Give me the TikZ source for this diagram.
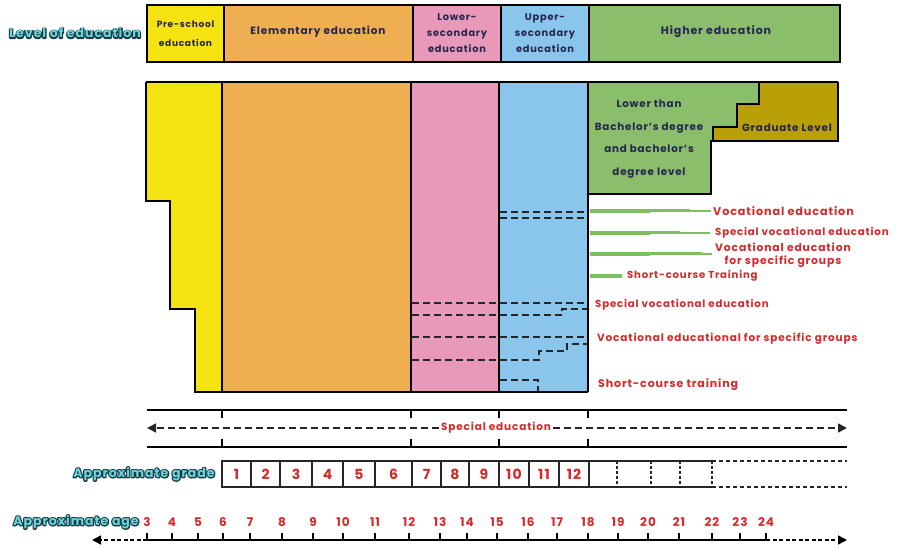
\documentclass[tikz,border=0pt]{standalone}
\usepackage{fontspec}
\setmainfont{Poppins}[LetterSpace=8]
\usetikzlibrary{arrows.meta}
\definecolor{yel}{HTML}{F4E311}
\definecolor{ora}{HTML}{F0AE52}
\definecolor{pnk}{HTML}{E899BA}
\definecolor{blu}{HTML}{8AC6EC}
\definecolor{grn}{HTML}{8BBE6A}
\definecolor{oli}{HTML}{B8A006}
\definecolor{navy}{HTML}{25254F}
\definecolor{redt}{HTML}{D42A2A}
\definecolor{cyn}{HTML}{66D6DE}
\definecolor{cdark}{HTML}{1C3A44}
\definecolor{vbar}{HTML}{7DBF5E}
\begin{document}
\begin{tikzpicture}[x=1pt,y=-1pt,
  box/.style={draw=black,line width=2.6pt,line join=miter},
  ttext/.style={text=navy,font=\bfseries\fontsize{10.5}{15}\selectfont,align=center,inner sep=0pt},
  rtext/.style={text=redt,font=\bfseries\fontsize{10.5}{11}\selectfont,anchor=west,inner sep=0pt},
  clabel/.style={font=\bfseries\fontsize{12.5}{13}\selectfont,inner sep=0pt},
  dsh/.style={draw=black!85,line width=1.4pt,dash pattern=on 7pt off 4pt},
  grade/.style={text=redt,font=\bfseries\fontsize{14}{14}\selectfont,inner sep=0pt},
  age/.style={text=redt,font=\bfseries\fontsize{12}{12}\selectfont,inner sep=0pt},
  arr/.style={-{Triangle[length=9pt,width=9pt]}},
]
\useasboundingbox (0,0) rectangle (897,548);
\newcommand{\cyanlab}[1]{\makebox[0pt][l]{\textcolor{cdark}{\special{pdf:literal direct 0.11 0.23 0.27 RG 2 Tr 2.4 w 1 j}#1\special{pdf:literal direct 0 Tr}}}\textcolor{cyn}{#1}}

% ---- top row
\draw[box,fill=yel] (147,5) rectangle (224,62);
\draw[box,fill=ora] (224,5) rectangle (413,62);
\draw[box,fill=pnk] (413,5) rectangle (501,62);
\draw[box,fill=blu] (501,5) rectangle (589,62);
\draw[box,fill=grn] (589,5) rectangle (840,62);
\node[ttext,font=\bfseries\fontsize{9}{19}\selectfont] (t1) at (185.5,34) {Pre-school\\education};
\node[ttext] (t2) at (318,32) {Elementary education};
\node[ttext,font=\bfseries\fontsize{9.8}{16}\selectfont] (t3) at (457,33) {Lower-\\secondary\\education};
\node[ttext,font=\bfseries\fontsize{9.8}{16}\selectfont] (t4) at (545,33) {Upper-\\secondary\\education};
\node[ttext,font=\bfseries\fontsize{11}{15}\selectfont] (t5) at (716,32) {Higher education};
\node[clabel] (lvl) at (75,33) {\cyanlab{Level of education}};

% ---- main area
\fill[ora] (222,82) rectangle (411,392);
\fill[pnk] (411,82) rectangle (499,392);
\fill[blu] (499,82) rectangle (588,392);
\fill[yel] (146,82) -- (222,82) -- (222,392) -- (195,392) -- (195,309) -- (170,309) -- (170,201) -- (146,201) -- cycle;
\fill[grn] (588,83) -- (838,83) -- (838,141) -- (711,141) -- (711,194) -- (588,194) -- cycle;
\fill[oli] (759,83) -- (838,83) -- (838,141) -- (713,141) -- (713,127) -- (737,127) -- (737,104) -- (759,104) -- cycle;
\draw[black,line width=1.8pt] (759,83) -- (759,104) -- (737,104) -- (737,127) -- (713,127) -- (713,141);

% dashed lines
\draw[dsh] (500,212) -- (588,212);
\draw[dsh] (500,218) -- (588,218);
\draw[dsh] (412,303) -- (588,303);
\draw[dsh] (412,315) -- (562,315) -- (562,309) -- (588,309);
\draw[dsh] (412,337) -- (588,337);
\draw[dsh] (412,360) -- (539,360) -- (539,351) -- (567,351) -- (567,344) -- (588,344);
\draw[dsh] (500,380) -- (538,380) -- (538,392);

% outlines
\draw[box] (146,82) -- (838,82);
\draw[box] (146,82) -- (146,201) -- (170,201) -- (170,309) -- (195,309) -- (195,392) -- (588,392);
\draw[box] (222,82) -- (222,392);
\draw[box] (411,82) -- (411,392);
\draw[box] (499,82) -- (499,392);
\draw[box] (588,82) -- (588,392);
\draw[box] (838,82) -- (838,141) -- (711,141) -- (711,194) -- (588,194);

\node[ttext,font=\bfseries\fontsize{10.3}{22.5}\selectfont] (low) at (649,139) {Lower than\\Bachelor's degree\\and bachelor's\\degree level};
\node[ttext,font=\bfseries\fontsize{10.3}{12}\selectfont] (grad) at (787,128) {Graduate Level};

% vocational bars
\draw[vbar,line width=4.5pt] (590,211) -- (650,211);
\draw[vbar,line width=3pt] (650,211) -- (690,211);
\draw[vbar,line width=1.5pt] (690,211) -- (711,211);
\draw[vbar,line width=4pt] (590,233) -- (650,233);
\draw[vbar,line width=3pt] (650,233) -- (680,233);
\draw[vbar,line width=1.5pt] (680,233) -- (710,233);
\draw[vbar,line width=4.5pt] (590,254) -- (650,254);
\draw[vbar,line width=3pt] (650,254) -- (702,254);
\draw[vbar,line width=1.5pt] (702,254) -- (712,254);
\draw[vbar,line width=4pt] (590,276) -- (622,276);
\node[rtext,font=\bfseries\fontsize{11.2}{11}\selectfont] (v1) at (713,211) {Vocational education};
\node[rtext,font=\bfseries\fontsize{10.2}{11}\selectfont] (v2) at (715,233) {Special vocational education};
\node[rtext,align=center,font=\bfseries\fontsize{10.8}{13}\selectfont] (v3) at (715,255) {Vocational education\\for specific groups};
\node[rtext,font=\bfseries\fontsize{10.1}{11}\selectfont] (v4) at (627,276) {Short-course Training};
\node[rtext,font=\bfseries\fontsize{10.2}{11}\selectfont] (s1) at (595,305) {Special vocational education};
\node[rtext] (s2) at (597,339) {Vocational educational for specific groups};
\node[rtext,font=\bfseries\fontsize{11}{11}\selectfont] (s3) at (598,385) {Short-course training};

% ---- special education band
\draw[black,line width=2pt] (147,410) -- (847,410);
\draw[black,line width=2pt] (147,447) -- (847,447);
\foreach \x in {222,411,499,588}{
  \draw[black,line width=1.5pt] (\x,410) -- (\x,418);
  \draw[black,line width=1.5pt] (\x,439) -- (\x,447);
}
\node[rtext,anchor=center,fill=white,inner xsep=2pt] (sped) at (496,428) {Special education};
\coordinate (spl) at (147,428);
\coordinate (spr) at (847,428);
\draw[dsh,line width=1.6pt,arr] (sped.west) -- (spl);
\draw[dsh,line width=1.6pt,arr] (sped.east) -- (spr);

% ---- grade row
\node[clabel] (agl) at (144,474) {\cyanlab{Approximate grade}};
\draw[black!85,line width=1.3pt] (222,461) rectangle (589,487);
\foreach \x in {251,280,312,343,375,412,441,469,499,529,559}{
  \draw[black!85,line width=1.3pt] (\x,461) -- (\x,487);
}
\draw[black!85,line width=1.3pt] (589,461) -- (712,461);
\draw[black!85,line width=1.3pt] (589,487) -- (712,487);
\foreach \x in {589,617,651,680,712}{
  \draw[black!85,line width=1.3pt,dash pattern=on 2.5pt off 2.5pt] (\x,461) -- (\x,487);
}
\draw[black!85,line width=1.3pt,dash pattern=on 4pt off 3pt] (712,461) -- (847,461);
\draw[black!85,line width=1.3pt,dash pattern=on 4pt off 3pt] (712,487) -- (847,487);
\foreach \a/\b/\n [count=\i] in {222/251/1,251/280/2,280/312/3,312/343/4,343/375/5,375/412/6,412/441/7,441/469/8,469/499/9,499/529/10,529/559/11,559/589/12}{
  \node[grade] (g\i) at ({(\a+\b)/2},474) {\n};
}

% ---- age axis
\node[clabel] (aal) at (76,522) {\cyanlab{Approximate age}};
\coordinate (axl) at (147,540);
\coordinate (axr) at (766,540);
\draw[black,line width=1.5pt] (axl) -- (axr);
\foreach \x/\n [count=\i] in {147/3,172/4,198/5,223/6,250/7,282/8,313/9,343/10,375/11,409/12,440/13,467/14,497/15,528/16,557/17,588/18,618/19,648/20,679/21,712/22,740/23,766/24}{
  \draw[black,line width=1.3pt] (\x,540) -- (\x,533);
  \node[age] (a\i) at (\x,522) {\n};
}
\coordinate (axle) at (92,540);
\coordinate (axre) at (847,540);
\draw[black,line width=1.5pt,dash pattern=on 4pt off 2.5pt,arr] (axl) -- (axle);
\draw[black,line width=1.5pt,dash pattern=on 4pt off 2.5pt,arr] (axr) -- (axre);
\end{tikzpicture}
\end{document}
